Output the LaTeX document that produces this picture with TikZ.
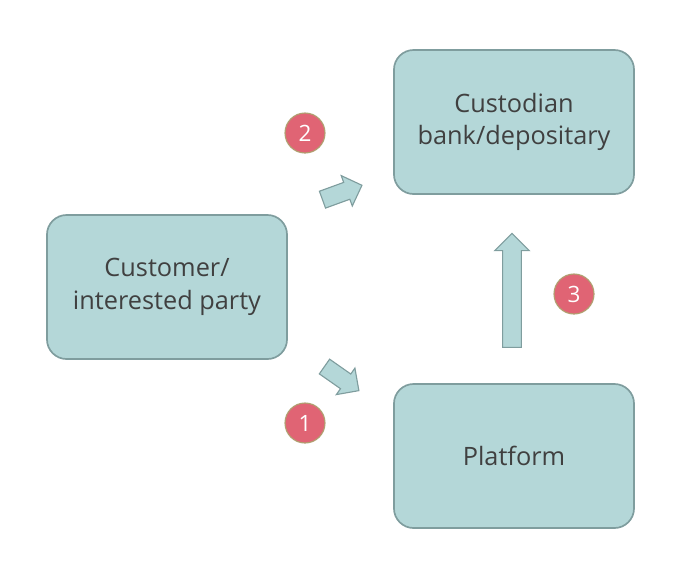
\documentclass[tikz,border=0pt]{standalone}
\usepackage{fontspec}
\setmainfont{Open Sans}
\usetikzlibrary{shapes.arrows}
\definecolor{boxfill}{HTML}{B4D7D8}
\definecolor{boxline}{HTML}{7F9D9E}
\definecolor{txt}{HTML}{404040}
\definecolor{badgefill}{HTML}{E06474}
\definecolor{badgeline}{HTML}{B0A070}
\tikzset{
    party/.style={draw=boxline,fill=boxfill,line width=1.2pt,rounded corners=14pt,
        minimum width=6cm,minimum height=3.6cm,align=center,text=txt,
        font=\fontsize{18}{23}\selectfont},
    stepno/.style={circle,draw=badgeline,fill=badgefill,line width=0.8pt,minimum size=1cm,
        inner sep=0pt,text=white,font=\fontsize{16}{18}\selectfont},
    flow/.style={single arrow,draw=boxline,fill=boxfill,line width=0.8pt,
        single arrow head extend=0.18cm,inner xsep=0pt,inner ysep=0.21cm,
        single arrow head indent=0pt}
}
\begin{document}
\begin{tikzpicture}[x=0.025cm,y=-0.025cm]
    \useasboundingbox (0,0) rectangle (697,574);
    \node[party] (cust) at (167,287) {Customer/\\interested party};
    \node[party] (bank) at (514,122) {Custodian\\bank/depositary};
    \node[party] (plat) at (514,456) {Platform};

    \node[flow,minimum height=1.05cm,rotate=20] (up) at (338,194) {};
    \node[flow,minimum height=1.05cm,rotate=-35] (down) at (338,376) {};
    \node[flow,minimum height=2.85cm,rotate=90,single arrow head extend=0.2cm,inner ysep=0.22cm] (lift) at (512,295) {};

    \node[stepno] (s2) at (305,133) {2};
    \node[stepno] (s1) at (305,423) {1};
    \node[stepno] (s3) at (574,294) {3};
\end{tikzpicture}
\end{document}
